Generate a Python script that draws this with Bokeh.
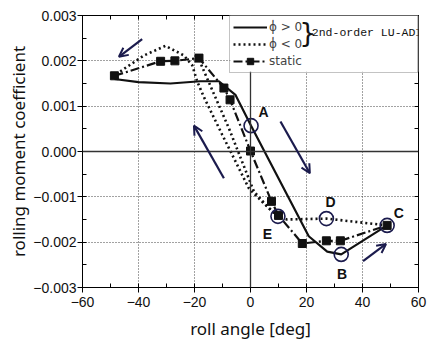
from bokeh.plotting import figure
from bokeh.models import (Range1d, SingleIntervalTicker, LinearAxis, CustomJSTickFormatter,
                          Span, Arrow, OpenHead, Label, Legend, LegendItem, BoxAnnotation, Title)
from bokeh.embed import file_html
from bokeh.resources import INLINE

# ---- data (roll angle [deg], rolling moment coefficient) ----
pos_x = [-48.6, -40.0, -28.6, -17.9, -11.3, -5.4, 0.2, 20.8, 27.4, 32.4, 48.8]
pos_y = [0.00160, 0.00153, 0.00150, 0.00155, 0.00155, 0.00125, 0.00057,
         -0.00187, -0.00221, -0.00227, -0.00163]

neg_x = [48.8, 27.1, 13.0, 9.8, 4.0, -0.6, -10.1, -16.7, -19.0, -20.8, -23.8,
         -30.4, -38.0, -45.0, -48.6]
neg_y = [-0.00163, -0.00148, -0.00150, -0.00143, -0.00110, -0.00081, 0.00037,
         0.00121, 0.00154, 0.00190, 0.00212, 0.00233, 0.00212, 0.00183, 0.00167]

neg2_x = [9.8, 6.5, 1.2, -7.7, -17.3, -18.4]
neg2_y = [-0.00143, -0.00125, -0.00088, 0.00051, 0.00187, 0.00205]

static_x = [-48.6, -32.1, -27.0, -18.4, -9.5, -7.3, 0.0, 7.5, 10.0, 18.5, 27.1, 32.1, 48.8]
static_y = [0.00167, 0.00199, 0.00200, 0.00206, 0.00140, 0.00114, 0.00001,
            -0.00110, -0.00141, -0.00203, -0.00197, -0.00197, -0.00163]

mark_names = ["A", "B", "C", "D", "E"]
mark_x = [0.2, 32.4, 48.8, 27.1, 9.8]
mark_y = [0.00057, -0.00227, -0.00163, -0.00148, -0.00143]
mark_label_x = [4.7, 32.7, 53.0, 28.6, 6.0]
mark_label_y = [0.00088, -0.00271, -0.00136, -0.00111, -0.00183]

arrow_x0 = [-38.7, -9.5, 10.7, 40.2]
arrow_y0 = [0.00248, -0.00059, 0.00066, -0.00242]
arrow_x1 = [-47.0, -20.2, 21.2, 48.4]
arrow_y1 = [0.00209, 0.00057, -0.00048, -0.00204]

legend_labels = ["\u03d5\u0307 > 0", "\u03d5\u0307 < 0", "static"]
group_label = "2nd-order LU-ADI"
brace_x = [20.5]
brace_y = [0.00262]
legend_box_left = -7.2
legend_box_bottom = 0.00176

x_label = "roll angle [deg]"
y_label = "rolling moment coefficient"

x_ticks_interval = 20
y_ticks_interval = 0.001

NAVY = "#1b1b4d"
INK = "#111111"

p = figure(width=427, height=344, output_backend="svg", toolbar_location=None,
           x_range=Range1d(-60, 60), y_range=Range1d(-0.003, 0.003),
           min_border_left=82, min_border_right=9, min_border_top=15, min_border_bottom=57,
           background_fill_color="white", border_fill_color="white")
p.outline_line_color = "black"
p.outline_line_width = 1

xt = SingleIntervalTicker(interval=x_ticks_interval, num_minor_ticks=2)
yt = SingleIntervalTicker(interval=y_ticks_interval, num_minor_ticks=2)
p.xaxis.ticker = xt
p.yaxis.ticker = yt
p.xgrid.ticker = xt
p.ygrid.ticker = yt

p.xaxis.formatter = CustomJSTickFormatter(code="""
    var t = Math.round(tick);
    return (t < 0 ? '\u2212' : '') + Math.abs(t).toString();
""")
p.yaxis.formatter = CustomJSTickFormatter(code="""
    var s = Math.abs(tick).toFixed(3);
    return (tick < -1e-9 ? '\u2212' : '') + s;
""")

for ax in (p.xaxis[0], p.yaxis[0]):
    ax.major_tick_in = 0
    ax.major_tick_out = 5
    ax.minor_tick_in = 4
    ax.minor_tick_out = 0
    ax.axis_line_color = "black"
    ax.major_tick_line_color = "black"
    ax.minor_tick_line_color = "black"
    ax.major_label_text_font = "Liberation Sans"
    ax.major_label_text_font_size = "14px"
    ax.major_label_text_color = "#111111"
    ax.axis_label_text_font = "Noto Sans"
    ax.axis_label_text_font_size = "17px"
    ax.axis_label_text_font_style = "normal"
    ax.axis_label_text_color = "#111111"

p.xaxis.axis_label = x_label
p.xaxis.major_label_standoff = 4
p.yaxis.major_label_standoff = 1
p.xaxis.axis_label_standoff = 7

# y-axis title as a left-side Title (centered along the frame)
p.add_layout(Title(text=y_label, align="center", text_font="Noto Sans",
                   text_font_size="17px", text_font_style="normal", text_color="#111111",
                   standoff=2, offset=0), "left")

blank = CustomJSTickFormatter(code="return '';")
top_ax = LinearAxis(ticker=xt, formatter=blank, major_tick_in=0, major_tick_out=0,
                    minor_tick_in=4, minor_tick_out=0, axis_line_color="black")
right_ax = LinearAxis(ticker=yt, formatter=blank, major_tick_in=0, major_tick_out=0,
                      minor_tick_in=4, minor_tick_out=0, axis_line_color="black")
p.add_layout(top_ax, "above")
p.add_layout(right_ax, "right")

for g in (p.xgrid[0], p.ygrid[0]):
    g.grid_line_color = "#444444"
    g.grid_line_dash = "1 2"
    g.grid_line_width = 1

p.add_layout(Span(location=0, dimension="height", line_color="#333333", line_width=1.3))
p.add_layout(Span(location=0, dimension="width", line_color="#333333", line_width=1.3))

r_pos = p.line(pos_x, pos_y, line_color=INK, line_width=2.2)
r_neg = p.line(neg_x, neg_y, line_color=INK, line_width=2.6, line_dash="2 3")
p.line(neg2_x, neg2_y, line_color=INK, line_width=2.6, line_dash="2 3")
r_st = p.line(static_x, static_y, line_color=INK, line_width=2.2, line_dash="9 3 2 3")
r_sq = p.scatter(static_x, static_y, marker="square", size=8, fill_color=INK, line_color=INK)

p.scatter(mark_x, mark_y, marker="circle", size=14, fill_color=None,
          line_color=NAVY, line_width=1.6)

for name, lx, ly in zip(mark_names, mark_label_x, mark_label_y):
    p.add_layout(Label(x=lx, y=ly, text=name, text_font="Liberation Sans",
                       text_font_style="bold", text_font_size="14px", text_color="#111111",
                       text_align="center", text_baseline="middle"))

for x0, y0, x1, y1 in zip(arrow_x0, arrow_y0, arrow_x1, arrow_y1):
    p.add_layout(Arrow(end=OpenHead(size=9, line_color=NAVY, line_width=2),
                       x_start=x0, y_start=y0, x_end=x1, y_end=y1,
                       line_color=NAVY, line_width=2.2))

# white backing for the legend (legend itself is transparent so the group label shows)
p.add_layout(BoxAnnotation(left=legend_box_left, bottom=legend_box_bottom,
                           fill_color="white", fill_alpha=1, line_color=None))

p.add_layout(Label(x=brace_x[0], y=brace_y[0], text="}", text_font="DejaVu Sans",
                   text_font_size="27px", text_color="#111111",
                   text_align="center", text_baseline="middle"))
p.add_layout(Label(x=brace_x[0] + 1.4, y=brace_y[0], text=group_label,
                   text_font="Liberation Mono", text_font_size="11.5px", text_color="#111111",
                   text_align="left", text_baseline="middle"))

legend = Legend(items=[LegendItem(label=legend_labels[0], renderers=[r_pos]),
                       LegendItem(label=legend_labels[1], renderers=[r_neg]),
                       LegendItem(label=legend_labels[2], renderers=[r_st, r_sq])],
                location="top_right", margin=0, padding=3, spacing=1,
                glyph_width=34, glyph_height=16, label_height=16, label_standoff=2,
                label_width=145,
                label_text_font="DejaVu Sans", label_text_font_size="12px",
                border_line_color="#888888", border_line_width=1,
                background_fill_alpha=0)
p.add_layout(legend)

open("out.html", "w").write(file_html(p, INLINE))
